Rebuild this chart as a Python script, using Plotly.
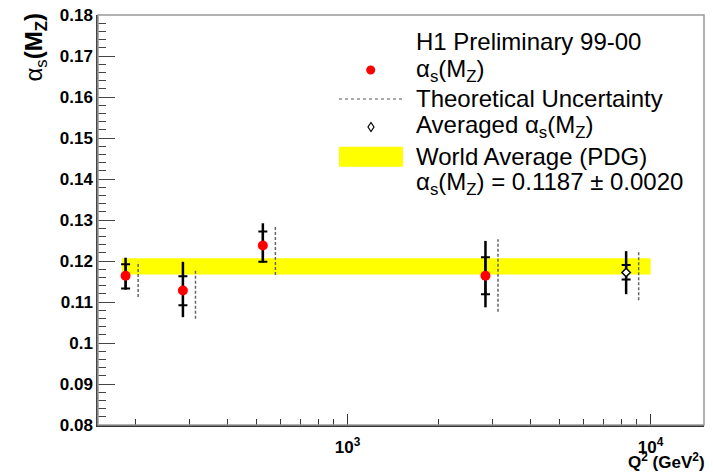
import math
import plotly.graph_objects as go

# ---------------- data ----------------
q2 = [185, 286, 525, 2850]                    # Q^2 (GeV^2)
alpha_s = [0.1164, 0.1128, 0.1238, 0.1164]     # alpha_s(M_Z)
stat_up = [0.0028, 0.0035, 0.0034, 0.0045]
stat_dn = [0.0031, 0.0036, 0.0040, 0.0045]
tot_up = [0.0044, 0.0070, 0.0054, 0.0085]
tot_dn = [0.0034, 0.0065, 0.0042, 0.0077]
theo_up = [0.0034, 0.0052, 0.0050, 0.0089]
theo_dn = [0.0052, 0.0069, 0.0072, 0.0088]

avg_q2 = [8300]
avg_alpha = [0.1172]
avg_stat_up = [0.0018]
avg_stat_dn = [0.0017]
avg_tot_up = [0.0052]
avg_tot_dn = [0.0053]
avg_theo_up = [0.0050]
avg_theo_dn = [0.0068]

world_avg = 0.1187
world_err = 0.0020
band_q2 = [180, 10000]

y_ticks = [0.08, 0.09, 0.10, 0.11, 0.12, 0.13, 0.14, 0.15, 0.16, 0.17, 0.18]
y_ticktext = ["0.08", "0.09", "0.1", "0.11", "0.12", "0.13", "0.14", "0.15", "0.16", "0.17", "0.18"]
x_ticks = [1000, 10000]
x_ticktext = ["10<sup>3</sup>", "10<sup>4</sup>"]

legend_lines = [
    "H1 Preliminary 99-00",
    "α<sub>s</sub>(M<sub>Z</sub>)",
    "Theoretical Uncertainty",
    "Averaged α<sub>s</sub>(M<sub>Z</sub>)",
    "World Average (PDG)",
    "α<sub>s</sub>(M<sub>Z</sub>) = 0.1187 ± 0.0020",
]

# ---------------- styling / geometry ----------------
# The page body margin is removed by a post script, so the figure fills the window.
W, H = 713, 475
L_S, R_S, T_S, B_S = 98, 704, 15, 425          # plot-area edges in window pixels
ML, MT = L_S, T_S
MR, MB = W - R_S, H - B_S
PW, PH = R_S - L_S, B_S - T_S
FONT = "Liberation Sans, Arial, Helvetica, sans-serif"
THEO_SHIFT = 1.1  # horizontal offset factor of the theory-uncertainty bars


def px(x):
    return (x - L_S) / PW


def py(y):
    return (B_S - y) / PH


all_q2 = q2 + avg_q2
all_a = alpha_s + avg_alpha
all_tu = theo_up + avg_theo_up
all_td = theo_dn + avg_theo_dn

theo_x, theo_y = [], []
for q, a, u, d in zip(all_q2, all_a, all_tu, all_td):
    theo_x += [q * THEO_SHIFT, q * THEO_SHIFT, None]
    theo_y += [a - d, a + u, None]

band_lo = world_avg - world_err
band_hi = world_avg + world_err

fig = go.Figure()

# world average band
fig.add_trace(go.Scatter(
    x=[band_q2[0], band_q2[1], band_q2[1], band_q2[0], band_q2[0]],
    y=[band_lo, band_lo, band_hi, band_hi, band_lo],
    mode="lines", fill="toself", fillcolor="#ffff00",
    line=dict(width=0, color="#ffff00"), hoverinfo="skip", showlegend=False))

# theoretical uncertainty (dashed)
fig.add_trace(go.Scatter(
    x=theo_x, y=theo_y, mode="lines",
    line=dict(color="#666666", width=1.5, dash="3px,2px"),
    showlegend=False, hoverinfo="skip"))

# total errors
fig.add_trace(go.Scatter(
    x=all_q2, y=all_a, mode="markers",
    marker=dict(size=1, color="rgba(0,0,0,0)"),
    error_y=dict(type="data", symmetric=False,
                 array=tot_up + avg_tot_up, arrayminus=tot_dn + avg_tot_dn,
                 width=0, thickness=2.5, color="black"),
    showlegend=False, hoverinfo="skip"))

# statistical errors (with tick marks)
fig.add_trace(go.Scatter(
    x=all_q2, y=all_a, mode="markers",
    marker=dict(size=1, color="rgba(0,0,0,0)"),
    error_y=dict(type="data", symmetric=False,
                 array=stat_up + avg_stat_up, arrayminus=stat_dn + avg_stat_dn,
                 width=4.5, thickness=2, color="black"),
    showlegend=False, hoverinfo="skip"))

# measurements
fig.add_trace(go.Scatter(
    x=q2, y=alpha_s, mode="markers",
    marker=dict(symbol="circle", size=10, color="#ff0000", line=dict(width=0)),
    showlegend=False))

# average
fig.add_trace(go.Scatter(
    x=avg_q2, y=avg_alpha, mode="markers",
    marker=dict(symbol="diamond", size=6.5, color="white",
                line=dict(width=1.5, color="black")),
    showlegend=False))

shapes = []
# frame (top/right lighter)
shapes.append(dict(type="rect", xref="paper", yref="paper", x0=0, x1=1, y0=0, y1=1,
                   line=dict(color="#999999", width=1.5), layer="above"))
# legend symbols
shapes.append(dict(type="circle", xref="paper", yref="paper",
                   x0=px(366.2), x1=px(375.2), y0=py(74.5), y1=py(65.5),
                   fillcolor="#ff0000", line=dict(width=0)))
shapes.append(dict(type="line", xref="paper", yref="paper",
                   x0=px(339), x1=px(402), y0=py(99), y1=py(99),
                   line=dict(color="#555555", width=1, dash="3px,3px")))
dx, dy, cx, cy = 3.0, 4.5, 371, 127
shapes.append(dict(type="path", xref="paper", yref="paper",
                   path=f"M {px(cx)},{py(cy-dy)} L {px(cx+dx)},{py(cy)} L {px(cx)},{py(cy+dy)} L {px(cx-dx)},{py(cy)} Z",
                   fillcolor="white", line=dict(color="black", width=1.2)))
shapes.append(dict(type="rect", xref="paper", yref="paper",
                   x0=px(339), x1=px(403), y0=py(166.7), y1=py(146.7),
                   fillcolor="#ffff00", line=dict(width=0)))

annotations = []
row_y = [41.7, 70, 99, 126.7, 156.7, 183]
for txt, yy in zip(legend_lines, row_y):
    annotations.append(dict(text=txt, xref="paper", yref="paper",
                            x=px(414), y=py(yy), xanchor="left", yanchor="middle",
                            showarrow=False, font=dict(family=FONT, size=24, color="black")))

# axis titles
annotations.append(dict(text="α<sub>s</sub><b>(M<sub>Z</sub>)</b>", xref="paper", yref="paper",
                        x=px(35), y=py(11), xanchor="center", yanchor="top",
                        textangle=-90, showarrow=False,
                        font=dict(family=FONT, size=24, color="black")))
annotations.append(dict(text="<b>Q<sup>2</sup> (GeV<sup>2</sup>)</b>", xref="paper", yref="paper",
                        x=px(707), y=py(474), xanchor="right", yanchor="bottom",
                        showarrow=False, font=dict(family=FONT, size=17, color="black")))

fig.update_layout(
    width=W, height=H,
    margin=dict(l=ML, r=MR, t=MT, b=MB, pad=0),
    paper_bgcolor="white", plot_bgcolor="white",
    font=dict(family=FONT, color="black"),
    showlegend=False,
    shapes=shapes, annotations=annotations,
    xaxis=dict(type="log", range=[math.log10(150), math.log10(15000)],
               automargin=False, ticklabeloverflow="allow",
               tickmode="array", tickvals=x_ticks, ticktext=x_ticktext,
               ticks="inside", ticklen=11, tickwidth=1, tickcolor="#333333",
               ticklabelstandoff=6,
               minor=dict(tickmode="array",
                          tickvals=[m * 10 ** e for e in (2, 3) for m in range(2, 10)],
                          ticks="inside", ticklen=6, tickwidth=1, tickcolor="#333333",
                          showgrid=False),
               showgrid=False, zeroline=False,
               showline=True, linecolor="#333333", linewidth=1.5,
               tickfont=dict(family=FONT, size=17, color="black", weight="bold")),
    yaxis=dict(range=[0.08, 0.18],
               automargin=False, ticklabeloverflow="allow",
               tickmode="array", tickvals=y_ticks, ticktext=y_ticktext,
               ticks="inside", ticklen=17, tickwidth=1, tickcolor="#444444",
               minor=dict(tickmode="array",
                          tickvals=[round(0.08 + 0.002 * i, 4) for i in range(51)],
                          ticks="inside", ticklen=8, tickwidth=1, tickcolor="#444444",
                          showgrid=False),
               showgrid=False, zeroline=False,
               showline=True, linecolor="#444444", linewidth=1.5,
               tickfont=dict(family=FONT, size=17, color="black", weight="bold")),
)

fig.write_html("out.html",
               config={"displayModeBar": False},
               post_script="document.body.style.margin='0';document.body.style.overflow='hidden';")
